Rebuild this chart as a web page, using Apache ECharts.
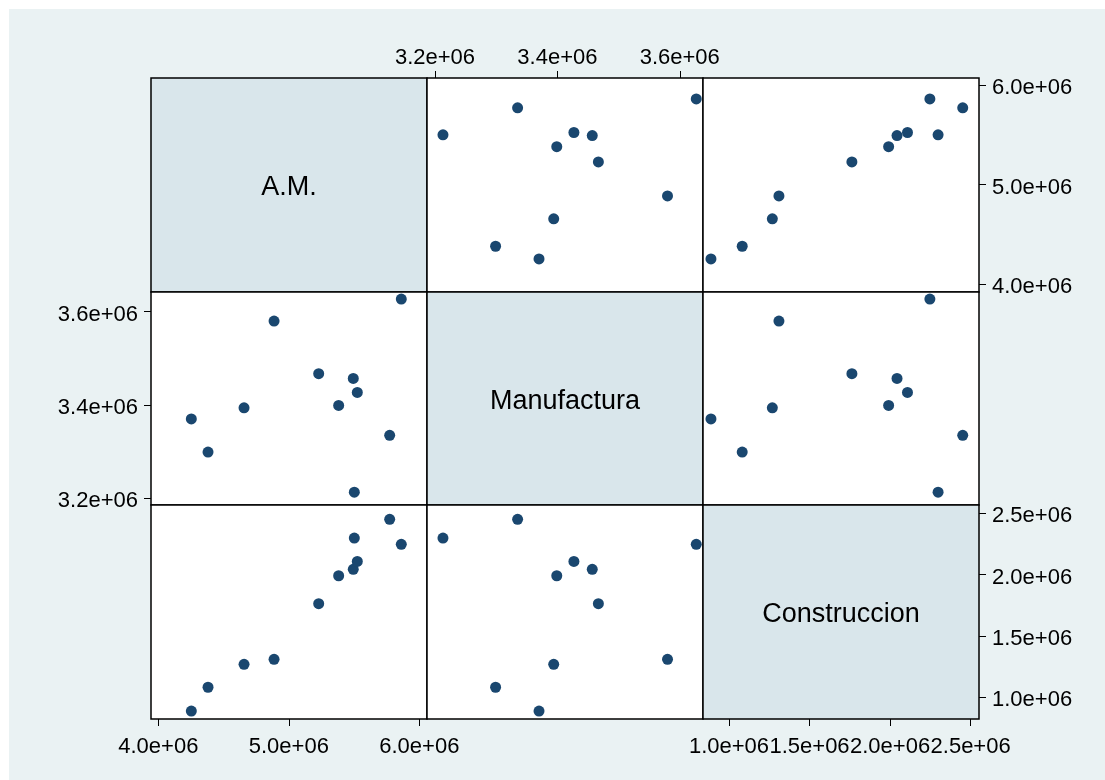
<!DOCTYPE html>
<html>
<head>
<meta charset="utf-8">
<script src="https://cdn.jsdelivr.net/npm/echarts@6/dist/echarts.min.js"></script>
<style>
html,body{margin:0;padding:0;background:#ffffff;}
#wrap{position:relative;width:1105px;height:780px;background:#ffffff;overflow:hidden;}
#c{position:absolute;left:9px;top:9px;width:1096px;height:771px;}
</style>
</head>
<body>
<div id="wrap"><div id="c"></div></div>
<script>
// ---- data ----
const varNames = ['A.M.', 'Manufactura', 'Construccion'];
const amValues = [4253000, 4381000, 4657000, 4887000, 5229000, 5382000, 5494000, 5525000, 5502000, 5773000, 5862000];
const manufacturaValues = [3370000, 3299000, 3394000, 3580000, 3467000, 3399000, 3457000, 3427000, 3213000, 3335000, 3627000];
const construccionValues = [888000, 1082000, 1269000, 1310000, 1763000, 1991000, 2043000, 2108000, 2298000, 2451000, 2247000];
const amTicks = [4000000, 5000000, 6000000];
const manufacturaTicks = [3200000, 3400000, 3600000];
const construccionTicks = [1000000, 1500000, 2000000, 2500000];

// ---- layout ----
const OFF = 9;
const colLeft = [151 - OFF, 427 - OFF, 703 - OFF];
const colW = 276;
const rowTop = [78 - OFF, 292 - OFF, 505 - OFF];
const rowH = [214, 213, 214];
const xRange = [[3944000, 6059000], [3186900, 3638000], [838600, 2552000]];
const yRange = [[3921000, 6073000], [3185600, 3642200], [823100, 2567700]];

const vals = [amValues, manufacturaValues, construccionValues];
const ticks = [amTicks, manufacturaTicks, construccionTicks];
const FONT = 'Liberation Sans, Arial, sans-serif';
const fmt = v => (v / 1e6).toFixed(1) + 'e+06';
const fmtY = v => '{a|' + fmt(v) + '}';

function xPos(r, c) {
  if (r === 0 && c === 1) return 'top';
  if (r === 2 && (c === 0 || c === 2)) return 'bottom';
  return null;
}
function yPos(r, c) {
  if (c === 0 && r === 1) return 'left';
  if (c === 2 && (r === 0 || r === 2)) return 'right';
  return null;
}
function makeAxis(kind, r, c, pos) {
  const v = kind === 'x' ? c : r;
  const range = kind === 'x' ? xRange[v] : yRange[v];
  let margin = 13;
  if (pos === 'top') margin = 9.5;
  if (pos === 'bottom') margin = 17;
  const label = {show: !!pos, customValues: ticks[v], formatter: fmt, fontSize: 22, color: '#000',
                 margin: margin, fontFamily: FONT};
  if (kind === 'y') {
    label.formatter = fmtY;
    label.rich = {a: {fontSize: 22, color: '#000', fontFamily: FONT, padding: [6, 0, 0, 0]}};
  }
  return {
    type: 'value',
    gridIndex: r * 3 + c,
    min: range[0], max: range[1],
    position: pos || (kind === 'x' ? 'bottom' : 'left'),
    splitLine: {show: false},
    axisLine: {show: false},
    axisTick: {show: !!pos, customValues: ticks[v], length: 7, lineStyle: {color: '#000', width: 1}},
    axisLabel: label,
    silent: true
  };
}

const grids = [], xAxes = [], yAxes = [], series = [], graphics = [];
for (let r = 0; r < 3; r++) {
  for (let c = 0; c < 3; c++) {
    const diag = r === c;
    grids.push({
      left: colLeft[c], top: rowTop[r], width: colW, height: rowH[r],
      show: true, backgroundColor: diag ? '#D9E6EB' : '#FFFFFF',
      borderColor: '#000', borderWidth: 1.5, containLabel: false, outerBoundsMode: 'none'
    });
    xAxes.push(makeAxis('x', r, c, xPos(r, c)));
    yAxes.push(makeAxis('y', r, c, yPos(r, c)));
    if (!diag) {
      series.push({
        type: 'scatter', xAxisIndex: r * 3 + c, yAxisIndex: r * 3 + c,
        data: vals[c].map((v, i) => [v, vals[r][i]]),
        symbol: 'circle', symbolSize: 11,
        itemStyle: {color: '#1A476F', opacity: 1},
        emphasis: {disabled: true}, silent: true
      });
    } else {
      graphics.push({
        type: 'text',
        x: colLeft[c] + colW / 2, y: rowTop[r] + rowH[r] / 2 + 3,
        style: {text: varNames[r], fill: '#000', fontSize: 27, fontFamily: FONT,
                align: 'center', verticalAlign: 'middle', textAlign: 'center', textVerticalAlign: 'middle'},
        z: 10
      });
    }
  }
}

const chart = echarts.init(document.getElementById('c'), null, {renderer: 'canvas'});
chart.setOption({
  backgroundColor: '#EAF2F3',
  animation: false,
  textStyle: {fontFamily: FONT},
  grid: grids,
  xAxis: xAxes,
  yAxis: yAxes,
  series: series,
  graphic: graphics
});
</script>
</body>
</html>
